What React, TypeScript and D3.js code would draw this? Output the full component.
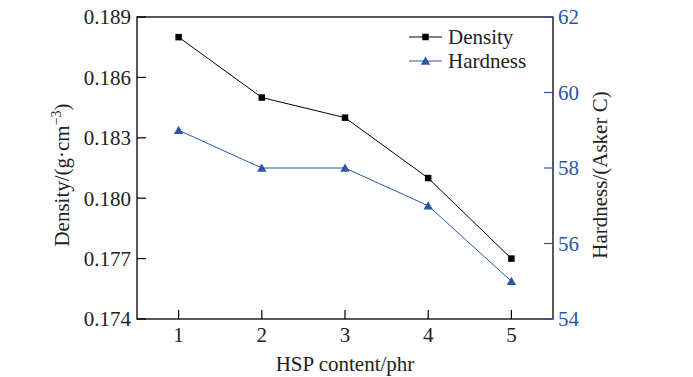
import React from "react";
import * as d3 from "d3";

const contents = [1, 2, 3, 4, 5];
const density = [0.188, 0.185, 0.184, 0.181, 0.177];
const hardness = [59, 58, 58, 57, 55];
const densityTicks = [0.174, 0.177, 0.18, 0.183, 0.186, 0.189];
const hardnessTicks = [54, 56, 58, 60, 62];

const W = 693, H = 377;
const L = 137, R = 553, T = 17, B = 319;
const BLUE = "#2c56a6";
const FONT = "'Liberation Serif', 'Times New Roman', serif";
const FS = 21;

export default function App() {
  const x = d3.scaleLinear().domain([0.5, 5.5]).range([L, R]);
  const yL = d3.scaleLinear().domain([0.174, 0.189]).range([B, T]);
  const yR = d3.scaleLinear().domain([54, 62]).range([B, T]);
  const lineD = d3.line<number>().x((_, i) => x(contents[i])).y((d) => yL(d));
  const lineH = d3.line<number>().x((_, i) => x(contents[i])).y((d) => yR(d));
  const tri = d3.symbol().type(d3.symbolTriangle).size(38)();
  const tick = 9;
  const sq = 6.5;
  return (
    <svg width={W} height={H} style={{ position: "absolute", left: 0, top: 0, background: "#fff" }} fontFamily={FONT}>
      <rect x={L} y={T} width={R - L} height={B - T} fill="none" stroke="#000" strokeWidth={1.3} />
      {densityTicks.map((t) => (
        <g key={"l" + t}>
          <line x1={L} x2={L + tick} y1={yL(t)} y2={yL(t)} stroke="#000" strokeWidth={1.2} />
          <text x={L - 6} y={yL(t)} dy="0.35em" textAnchor="end" fontSize={FS} fill="#222">{d3.format(".3f")(t)}</text>
        </g>
      ))}
      {hardnessTicks.map((t) => (
        <g key={"r" + t}>
          <line x1={R} x2={R - tick} y1={yR(t)} y2={yR(t)} stroke={BLUE} strokeWidth={1.2} />
          <text x={R + 5} y={yR(t)} dy="0.35em" textAnchor="start" fontSize={FS} fill={BLUE}>{t}</text>
        </g>
      ))}
      {contents.map((c) => (
        <g key={"x" + c}>
          <line x1={x(c)} x2={x(c)} y1={B} y2={B - tick} stroke="#000" strokeWidth={1.2} />
          <text x={x(c)} y={342} textAnchor="middle" fontSize={FS} fill="#222">{c}</text>
        </g>
      ))}
      <text x={(L + R) / 2} y={371} textAnchor="middle" fontSize={FS} fill="#222">HSP content/phr</text>
      <text transform={`translate(69,${(T + B) / 2 + 7}) rotate(-90)`} textAnchor="middle" fontSize={FS} fill="#222">
        Density/(g·cm<tspan dy="-8" fontSize={14}>−3</tspan><tspan dy="8">)</tspan>
      </text>
      <text transform={`translate(607,${(T + B) / 2 + 7}) rotate(-90)`} textAnchor="middle" fontSize={FS} fill="#222">Hardness/(Asker C)</text>

      <path d={lineD(density) || ""} fill="none" stroke="#000" strokeWidth={1} />
      <path d={lineH(hardness) || ""} fill="none" stroke={BLUE} strokeWidth={1} />
      {density.map((d, i) => (
        <rect key={"d" + i} x={x(contents[i]) - sq / 2} y={yL(d) - sq / 2} width={sq} height={sq} fill="#000" />
      ))}
      {hardness.map((d, i) => (
        <path key={"h" + i} d={tri || ""} transform={`translate(${x(contents[i])},${yR(d) + 1})`} fill={BLUE} />
      ))}

      <line x1={409} x2={442} y1={37} y2={37} stroke="#000" strokeWidth={1} />
      <rect x={425.5 - sq / 2} y={37 - sq / 2} width={sq} height={sq} fill="#000" />
      <text x={448} y={37} dy="0.35em" fontSize={FS} fill="#222">Density</text>
      <line x1={409} x2={442} y1={61} y2={61} stroke={BLUE} strokeWidth={1} />
      <path d={tri || ""} transform={`translate(425.5,62)`} fill={BLUE} />
      <text x={448} y={61} dy="0.35em" fontSize={FS} fill="#222">Hardness</text>
    </svg>
  );
}
